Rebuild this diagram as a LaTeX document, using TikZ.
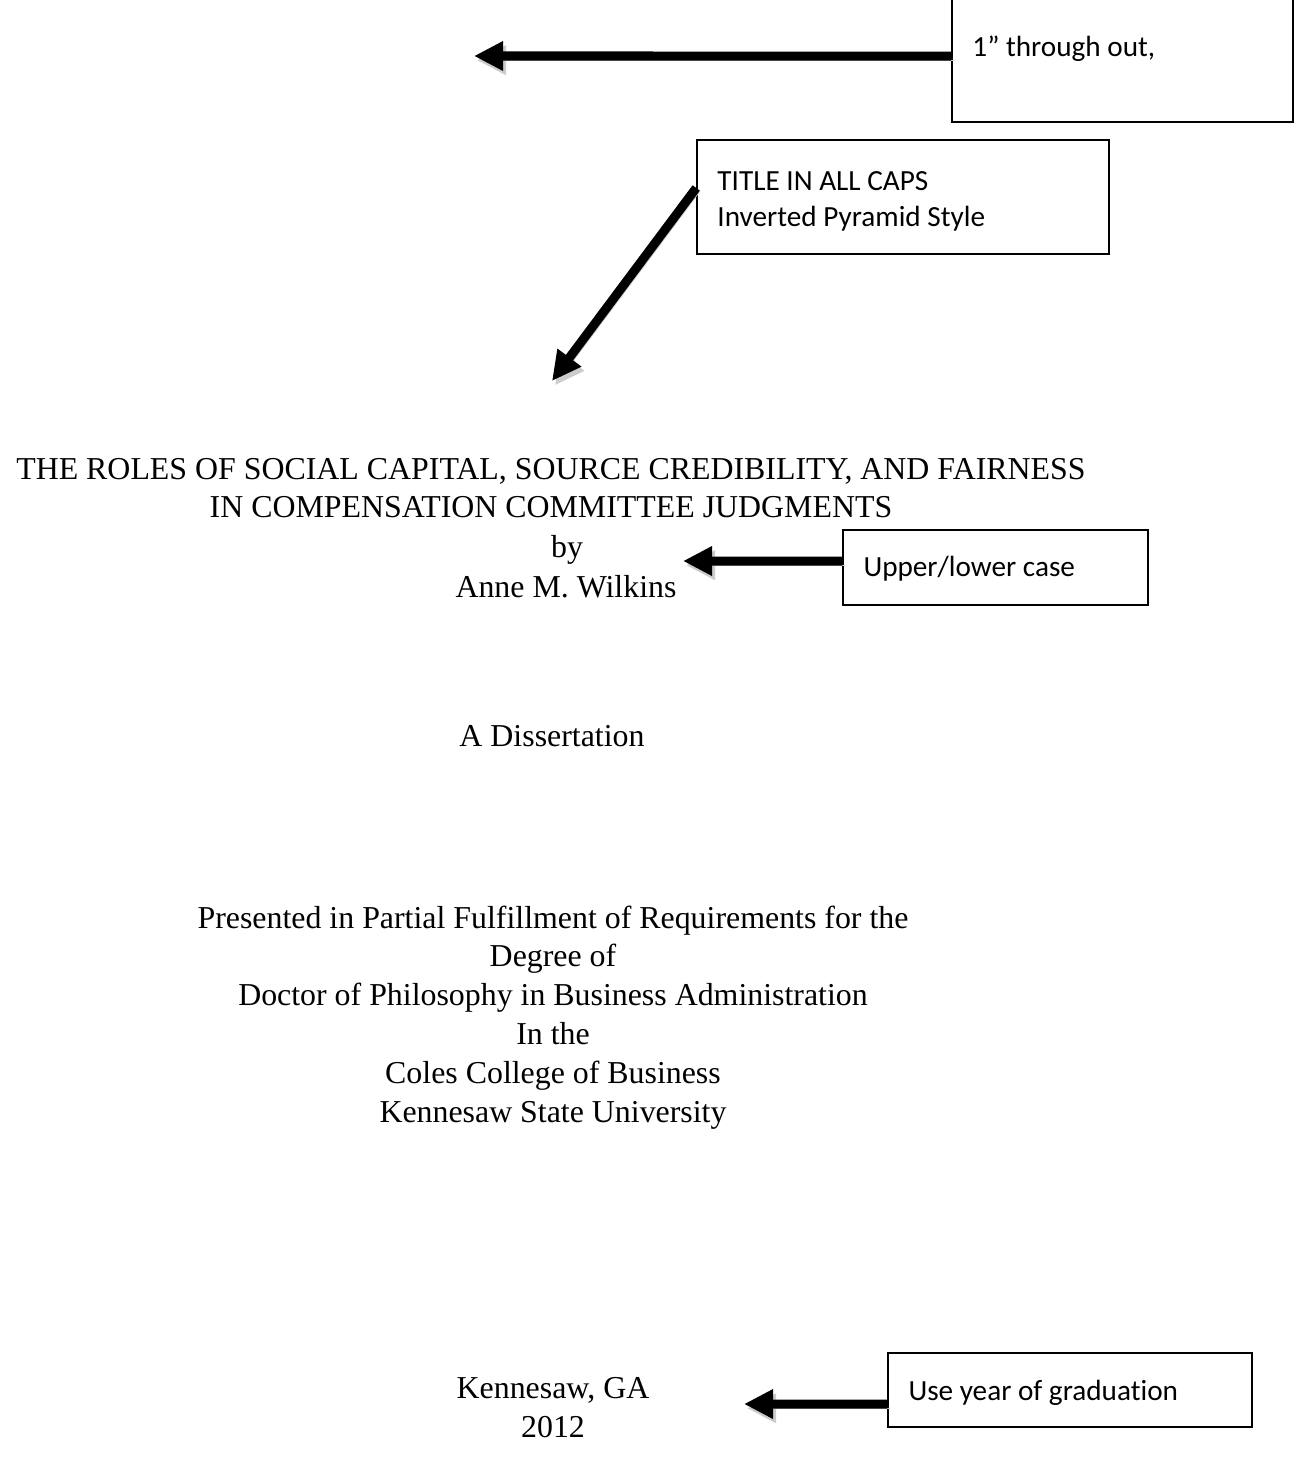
\documentclass[tikz,border=0pt]{standalone}
\usepackage{fontspec}
\setmainfont{Liberation Serif}
\newfontfamily\notefont[Ligatures=NoCommon]{Carlito}
\usetikzlibrary{arrows.meta}
\newcommand{\pxu}{0.3765pt}
\newcommand{\noteline}[2]{\makebox[#1][l]{#2}}

\tikzset{
  body/.style={anchor=base, font=\fontsize{12}{14.5}\selectfont, inner sep=0pt},
  notebox/.style={draw, line width=0.6pt, inner xsep=7.7pt,
    font=\notefont\fontsize{11}{13.6}\selectfont},
  fatarrow/.style={-{Triangle[length=11pt,width=10.5pt]}, line width=3.4pt,
    preaction={draw=black!20, transform canvas={shift={(1.1pt,-1.6pt)}}}}
}

\begin{document}
\begin{tikzpicture}[x=\pxu,y=-\pxu]
\useasboundingbox (0,0) rectangle (1301,1474);

% notes on the right
\node[notebox, minimum width=128.4pt, minimum height=47.1pt,
  text height=5.4pt, text depth=8pt] (once) at (1122.5,59.5)
  {\noteline{113pt}{1” through out,}};
\node[notebox, minimum width=155.1pt, minimum height=42.9pt,
  text height=2.8pt, text depth=8pt] (caps) at (903,197)
  {\parbox[t]{139.7pt}{TITLE IN ALL CAPS\\Inverted Pyramid Style}};
\node[notebox, minimum width=114.8pt, minimum height=28.2pt,
  text height=8pt, text depth=1pt] (case) at (995.5,567.5)
  {\noteline{99.4pt}{Upper/lower case}};
\node[notebox, minimum width=137.0pt, minimum height=27.9pt,
  text height=8.6pt, text depth=1pt] (grad) at (1070,1390)
  {\noteline{121.6pt}{Use year of graduation}};

\coordinate (m1) at (474,56);
\coordinate (m2) at (552,381);
\coordinate (m3) at (683,561);
\coordinate (m4) at (744,1404);

\draw[fatarrow] ([yshift=1.3pt]once.west) -- (m1);
\draw[fatarrow] ([yshift=3.4pt]caps.west) -- (m2);
\draw[fatarrow] ([yshift=2.4pt]case.west) -- (m3);
\draw[fatarrow] ([yshift=-5.3pt]grad.west) -- (m4);

% title page
\node[body] (title) at (551,479) {THE ROLES OF SOCIAL CAPITAL, SOURCE CREDIBILITY, AND FAIRNESS};
\node[body] (title2) at (551,517) {IN COMPENSATION COMMITTEE JUDGMENTS};
\node[body] (by) at (567,557) {by};
\node[body] (author) at (566,597) {Anne M. Wilkins};
\node[body] (diss) at (552,746) {A Dissertation};
\node[body] (pres) at (553,928) {Presented in Partial Fulfillment of Requirements for the};
\node[body] (degree) at (553,966) {Degree of};
\node[body] (doctor) at (553,1005) {Doctor of Philosophy in Business Administration};
\node[body] (inthe) at (553,1044) {In the};
\node[body] (coles) at (553,1083) {Coles College of Business};
\node[body] (ksu) at (553,1122) {Kennesaw State University};
\node[body] (city) at (553,1398) {Kennesaw, GA};
\node[body] (year) at (553,1437) {2012};
\end{tikzpicture}
\end{document}
